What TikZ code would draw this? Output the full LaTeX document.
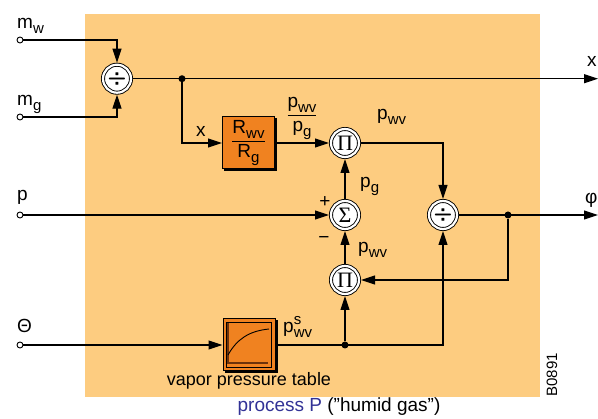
\documentclass[tikz,border=0pt]{standalone}
\usepackage{fontspec}
\setmainfont{Liberation Sans}
\newfontfamily\opfont{Liberation Serif}
\usepackage{amsmath}
\usetikzlibrary{arrows.meta, positioning, calc, shadows}

\definecolor{procbg}{RGB}{253,204,128}
\definecolor{blockorange}{RGB}{240,130,32}
\definecolor{axisbrown}{RGB}{110,50,10}
\definecolor{capblue}{RGB}{50,50,150}

\newcommand{\idx}[1]{{\fontsize{15}{15}\selectfont #1}}
\newcommand{\ssub}[2]{#1\raisebox{-5pt}{\idx{#2}}}
\newcommand{\ssubsup}[3]{#1\rlap{\raisebox{8pt}{\idx{#2}}}\raisebox{-5pt}{\idx{#3}}}

\tikzset{
  op/.style={circle, draw, fill=white, double, double distance=2.2pt, line width=0.9pt, minimum size=28pt, inner sep=0pt, outer sep=2pt, font=\opfont\fontsize{22}{22}\selectfont},
  blockbox/.style={draw, line width=1pt, fill=blockorange, minimum size=52pt, inner sep=0pt, copy shadow={shadow xshift=2pt, shadow yshift=-2pt, fill=black, draw=black}},
  sig/.style={line width=1.1pt, -{Triangle[length=14pt, width=9pt]}},
  port/.style={circle, draw, fill=white, line width=0.9pt, minimum size=6pt, inner sep=0pt},
  dot/.style={circle, fill=black, minimum size=7pt, inner sep=0pt},
  txt/.style={anchor=base west, inner sep=0pt},
}

\begin{document}
\begin{tikzpicture}[x=1pt, y=-1pt, every node/.style={font=\fontsize{19}{23}\selectfont}]

\useasboundingbox (0,0) rectangle (598,419);

%//process area
\fill[procbg] (85,14) rectangle (540,397);

%//inputs on the left
\foreach \nm/\y/\b/\lbl in {mw/40/29/{\ssub{m}{w}}, mg/117/106/{\ssub{m}{g}}, pin/215/201/p, th/345/333/Θ}
{
\node[port] (\nm) at (20,\y) {};
\node[txt] at (17,\b) {\lbl};
}

%//outputs on the right
\coordinate (xout) at (598,78.7);
\coordinate (phiout) at (598,215);
\node[txt] at (587,67) {x};
\node[txt] at (585,204) {φ};

%//operators
\node[op] (div1) at (117,78.7) {{\sffamily\bfseries ÷}};
\node[op] (pi1) at (345,143) {Π};
\node[op] (sum) at (345,215) {Σ};
\node[op] (pi2) at (345,280) {Π};
\node[op] (div2) at (443,215) {{\sffamily\bfseries ÷}};

%//blocks
\node[blockbox] (rbox) at (248.5,143) {\ensuremath{\dfrac{\text{\ssub{R}{wv}}}{\text{\ssub{R}{g}}}}};
\node[blockbox] (tbl) at (249,345) {};
\draw[line width=0.8pt] ($(tbl.south west)+(4,-4)$) rectangle ($(tbl.north east)+(-4,4)$);
\draw[axisbrown, line width=1.6pt] ([shift={(-21,-22)}]tbl.center) -- ([shift={(-21,18)}]tbl.center) -- ([shift={(19,18)}]tbl.center);
\draw[line width=0.9pt] ([shift={(-21,10)}]tbl.center) .. controls ([shift={(-12,-6)}]tbl.center) and ([shift={(0,-14)}]tbl.center) .. ([shift={(20,-16)}]tbl.center);
\node[below=0pt of tbl, inner sep=1pt, font=\fontsize{18}{20}\selectfont] (tbllbl) {vapor pressure table};

%//junctions
\node[dot] (j1) at (182,78.7) {};
\node[dot] (j2) at (508,215) {};
\node[dot] (j3) at (345,345) {};

%//signals
\draw[sig] (mw) -| (div1);
\draw[sig] (mg) -| (div1);
\draw[sig] (div1) -- (xout);
\draw[sig] (j1) |- (rbox);
\draw[sig] (rbox) -- node[above, inner sep=3pt] {\ensuremath{\dfrac{\text{\ssub{p}{wv}}}{\text{\ssub{p}{g}}}}} (pi1);
\draw[sig] (pi1) -| (div2);
\draw[sig] (pin) -- (sum);
\draw[sig] (sum) -- (pi1);
\draw[sig] (pi2) -- (sum);
\draw[sig] (div2) -- (phiout);
\draw[sig] (j2) |- (pi2);
\draw[sig] (th) -- (tbl);
\draw[sig] (tbl) -| (div2);
\draw[sig] (j3) -- (pi2);

%//labels
\node[txt] at (196,137) {x};
\node[txt] at (377,120) {\ssub{p}{wv}};
\node[txt] at (360,188) {\ssub{p}{g}};
\node[txt] at (358,253) {\ssub{p}{wv}};
\node[txt] at (283,333) {\ssubsup{p}{s}{wv}};
\node at (325,202) {+};
\node at (324,240) {−};

\node[rotate=90, font=\fontsize{15}{15}\selectfont] (code) at (552,375) {B0891};
\node[anchor=base] (cap) at (339,412) {\textcolor{capblue}{process P} ("humid gas")};

\end{tikzpicture}
\end{document}
